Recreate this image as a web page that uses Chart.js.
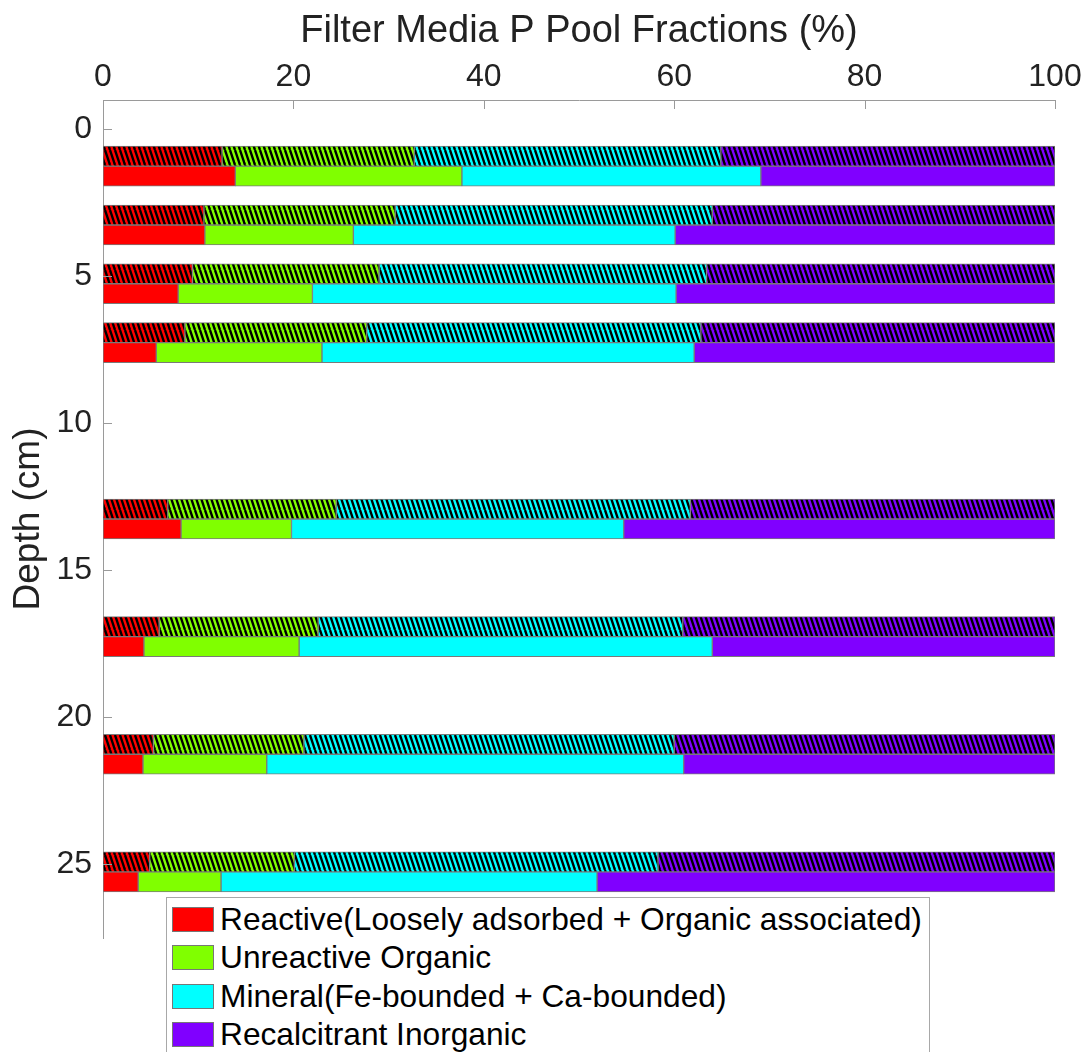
<!DOCTYPE html>
<html>
<head>
<meta charset="utf-8">
<script src="https://cdn.jsdelivr.net/npm/chart.js@4.4.1/dist/chart.umd.min.js"></script>
<style>
  body { margin: 0; background: #fff; }
  #wrap { position: relative; width: 1091px; height: 1052px; overflow: hidden; }
  #legend {
    position: absolute; left: 166px; top: 897px; width: 764px; height: 170px;
    background: #fff; border: 1px solid #a8a8a8; box-sizing: border-box;
    font-family: 'Liberation Sans', Helvetica, Arial, sans-serif; font-size: 31.7px; color: #000;
  }
  .row { position: absolute; left: 5px; height: 26px; display: flex; align-items: center; white-space: nowrap; }
  .sw { width: 42px; height: 25px; border: 1px solid #777; box-sizing: border-box; margin-right: 6px; }
</style>
</head>
<body>
<div id="wrap">
  <canvas id="chart" width="1091" height="1052"></canvas>
  <div id="legend"></div>
</div>
<script>
// depth of each sample pair (cm)
const depths = [1.25, 3.25, 5.25, 7.25, 13.25, 17.25, 21.25, 25.25];
const yTicks = [0, 5, 10, 15, 20, 25];

// fraction names and colours
const fractions = [
  'Reactive(Loosely adsorbed + Organic associated)',
  'Unreactive Organic',
  'Mineral(Fe-bounded + Ca-bounded)',
  'Recalcitrant Inorganic'
];
const colors = ['#ff0000', '#80ff00', '#00ffff', '#8000ff'];

// upper (hatched) bars, % of total
const reactiveH = [12.5, 10.6, 9.4, 8.6, 6.8, 5.9, 5.3, 4.9];
const organicH  = [20.2, 20.1, 19.6, 19.1, 17.7, 16.7, 15.8, 15.2];
const mineralH  = [32.2, 33.3, 34.4, 35.1, 37.2, 38.3, 38.9, 38.2];
const recalcH   = [35.1, 36.0, 36.6, 37.2, 38.3, 39.1, 40.0, 41.7];

// lower (solid) bars, % of total
const reactiveS = [13.9, 10.7, 7.9, 5.6, 8.2, 4.3, 4.2, 3.7];
const organicS  = [23.8, 15.6, 14.1, 17.4, 11.6, 16.3, 13.0, 8.7];
const mineralS  = [31.4, 33.8, 38.2, 39.1, 34.9, 43.4, 43.8, 39.5];
const recalcS   = [30.9, 39.9, 39.8, 37.9, 45.3, 36.0, 39.0, 48.1];

const hatchedSeries = [reactiveH, organicH, mineralH, recalcH];
const solidSeries = [reactiveS, organicS, mineralS, recalcS];

const FONT = "'Liberation Sans', Helvetica, Arial, sans-serif";
const AXIS = '#9a9a9a';

// diagonal black stripes over the fraction colour
function makeHatch(color) {
  const w = 5, h = 15;
  const c = document.createElement('canvas');
  c.width = w; c.height = h;
  const g = c.getContext('2d');
  g.fillStyle = color;
  g.fillRect(0, 0, w, h);
  g.strokeStyle = '#000';
  g.lineWidth = 2.4;
  for (const x0 of [-w, 0, w]) {
    g.beginPath();
    g.moveTo(x0, 0);
    g.lineTo(x0 + w, h);
    g.stroke();
  }
  return g.createPattern(c, 'repeat');
}

function toPoints(vals) {
  return vals.map((v, i) => ({ x: v, y: depths[i] }));
}

const datasets = [];
hatchedSeries.forEach((vals, k) => {
  datasets.push({
    label: fractions[k] + ' (hatched)',
    data: toPoints(vals),
    stack: 'hatched',
    backgroundColor: makeHatch(colors[k]),
    borderColor: '#7a7a7a',
    borderWidth: 1,
    borderSkipped: false
  });
});
solidSeries.forEach((vals, k) => {
  datasets.push({
    label: fractions[k],
    data: toPoints(vals),
    stack: 'solid',
    backgroundColor: colors[k],
    borderColor: '#7a7a7a',
    borderWidth: 1,
    borderSkipped: false
  });
});

// short tick marks pointing into the plot
const innerTicks = {
  id: 'innerTicks',
  afterDraw(chart) {
    const { ctx, chartArea, scales } = chart;
    ctx.save();
    ctx.strokeStyle = AXIS;
    ctx.lineWidth = 1;
    scales.x.ticks.forEach(t => {
      const px = Math.round(scales.x.getPixelForValue(t.value)) + 0.5;
      ctx.beginPath();
      ctx.moveTo(px, chartArea.top);
      ctx.lineTo(px, chartArea.top + 9);
      ctx.stroke();
    });
    scales.y.ticks.forEach(t => {
      const py = Math.round(scales.y.getPixelForValue(t.value)) + 0.5;
      ctx.beginPath();
      ctx.moveTo(chartArea.left, py);
      ctx.lineTo(chartArea.left + 9, py);
      ctx.stroke();
    });
    ctx.restore();
  }
};

new Chart(document.getElementById('chart'), {
  type: 'bar',
  data: { datasets: datasets },
  options: {
    indexAxis: 'y',
    responsive: false,
    animation: false,
    barThickness: 20,
    layout: { padding: { top: 0, right: 36, bottom: 114, left: 0 } },
    plugins: {
      legend: { display: false },
      tooltip: { enabled: false }
    },
    scales: {
      x: {
        type: 'linear',
        position: 'top',
        stacked: true,
        min: 0,
        max: 100,
        grid: { display: false },
        border: { display: true, color: AXIS, width: 1 },
        ticks: { stepSize: 20, padding: -4, color: '#222', font: { family: FONT, size: 32 } },
        title: {
          display: true,
          text: 'Filter Media P Pool Fractions (%)',
          color: '#222',
          font: { family: FONT, size: 38 },
          padding: { top: 9, bottom: 0 }
        },
        afterFit(scale) { scale.height = 100; }
      },
      y: {
        type: 'linear',
        reverse: true,
        offset: false,
        min: -1,
        max: 27.5,
        grid: { display: false, offset: false },
        border: { display: true, color: AXIS, width: 1 },
        afterBuildTicks(scale) { scale.ticks = yTicks.map(v => ({ value: v })); },
        ticks: { padding: 3, color: '#222', font: { family: FONT, size: 32 } },
        title: {
          display: true,
          text: 'Depth (cm)',
          color: '#222',
          font: { family: FONT, size: 37 },
          padding: { top: 7, bottom: 0 }
        },
        afterFit(scale) { scale.width = 103; }
      }
    }
  },
  plugins: [innerTicks]
});

// legend box overlapping the bottom of the axes
const legend = document.getElementById('legend');
fractions.forEach((name, k) => {
  const row = document.createElement('div');
  row.className = 'row';
  row.style.top = (8 + k * 38.6) + 'px';
  row.innerHTML = '<div class="sw" style="background:' + colors[k] + '"></div><span>' + name + '</span>';
  legend.appendChild(row);
});
</script>
</body>
</html>
